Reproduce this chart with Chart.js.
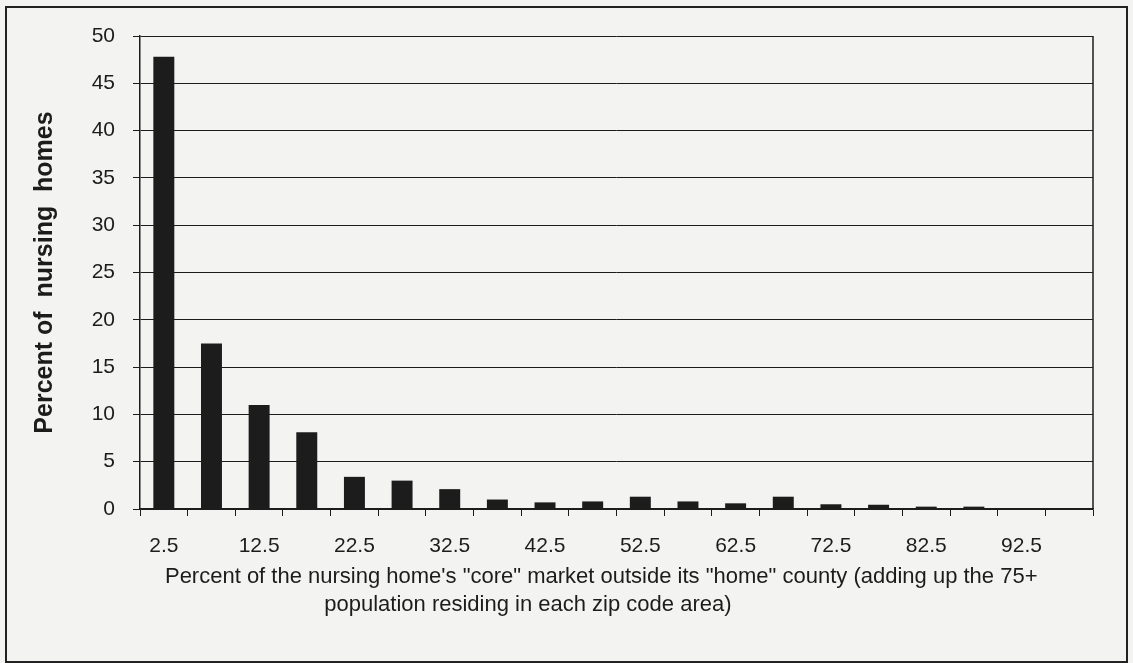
<!DOCTYPE html>
<html lang="en">
<head>
  <meta charset="UTF-8" />
  <title>Nursing home core market outside home county</title>
  <script src="https://cdn.jsdelivr.net/npm/chart.js"></script>
  <style>
    body {
      margin: 0;
      padding: 0;
      background: #f3f3f1;
      font-family: 'Liberation Sans', Arial, sans-serif;
    }
    .wrap {
      position: relative;
      width: 1133px;
      height: 663px;
    }
    .frame {
      position: absolute;
      left: 5px;
      top: 6px;
      width: 1119px;
      height: 653px;
      border: 2px solid #222;
      pointer-events: none;
    }
  </style>
</head>
<body>
  <div class="wrap">
    <canvas id="chart" width="1133" height="663"></canvas>
    <div class="frame"></div>
  </div>

  <script>
    // bins of % of core market outside home county (bin midpoints)
    const categories = ['2.5', '7.5', '12.5', '17.5', '22.5', '27.5', '32.5', '37.5', '42.5', '47.5',
                        '52.5', '57.5', '62.5', '67.5', '72.5', '77.5', '82.5', '87.5', '92.5', '97.5'];
    const percentHomes = [47.8, 17.5, 11.0, 8.1, 3.4, 3.0, 2.1, 1.0, 0.7, 0.8,
                          1.3, 0.8, 0.6, 1.3, 0.5, 0.45, 0.25, 0.25, 0, 0];
    const shownTicks = ['2.5', '12.5', '22.5', '32.5', '42.5', '52.5', '62.5', '72.5', '82.5', '92.5'];

    const ink = '#1c1c1c';
    const font = "'Liberation Sans', Arial, sans-serif";

    // right edge of the plot box
    const plotFrame = {
      id: 'plotFrame',
      afterDraw(chart) {
        const { ctx, chartArea: a } = chart;
        ctx.save();
        ctx.strokeStyle = ink;
        ctx.lineWidth = 1.5;
        ctx.beginPath();
        ctx.moveTo(a.right, a.top);
        ctx.lineTo(a.right, a.bottom);
        ctx.stroke();
        ctx.restore();
      }
    };

    new Chart(document.getElementById('chart'), {
      type: 'bar',
      data: {
        labels: categories,
        datasets: [{
          data: percentHomes,
          backgroundColor: ink,
          borderWidth: 0,
          barPercentage: 0.44,
          categoryPercentage: 1
        }]
      },
      options: {
        responsive: false,
        animation: false,
        layout: { padding: { top: 36, right: 40, bottom: 0, left: 0 } },
        plugins: {
          legend: { display: false },
          tooltip: { enabled: false }
        },
        scales: {
          x: {
            afterFit: s => { s.height = 154; },
            grid: {
              offset: true,
              drawOnChartArea: false,
              drawTicks: true,
              tickLength: 7,
              color: ink
            },
            border: { display: true, color: ink, width: 1.5 },
            ticks: {
              autoSkip: false,
              maxRotation: 0,
              padding: 18,
              color: ink,
              font: { family: font, size: 21 },
              callback: function (v, i) {
                const lab = categories[i];
                return shownTicks.includes(lab) ? lab : '';
              }
            },
            title: {
              display: true,
              // trailing spaces nudge each centred line left, like the original
              text: [
                'Percent of the nursing home\'s "core" market outside its "home" county (adding up the 75+     ',
                'population residing in each zip code area)                             '
              ],
              color: ink,
              font: { family: font, size: 22, lineHeight: '28px' },
              padding: { top: 0, bottom: 44 }
            }
          },
          y: {
            min: 0,
            max: 50,
            afterFit: s => { s.width = 140; },
            grid: {
              color: ink,
              lineWidth: 1,
              tickLength: 7
            },
            border: { display: true, color: ink, width: 1.5 },
            ticks: {
              stepSize: 5,
              padding: 18,
              color: ink,
              font: { family: font, size: 21 }
            },
            title: {
              display: true,
              text: 'Percent of  nursing  homes',
              color: ink,
              font: { family: font, size: 25, weight: 'bold', lineHeight: '30px' },
              padding: { top: 30, bottom: 0 }
            }
          }
        }
      },
      plugins: [plotFrame]
    });
  </script>
</body>
</html>
